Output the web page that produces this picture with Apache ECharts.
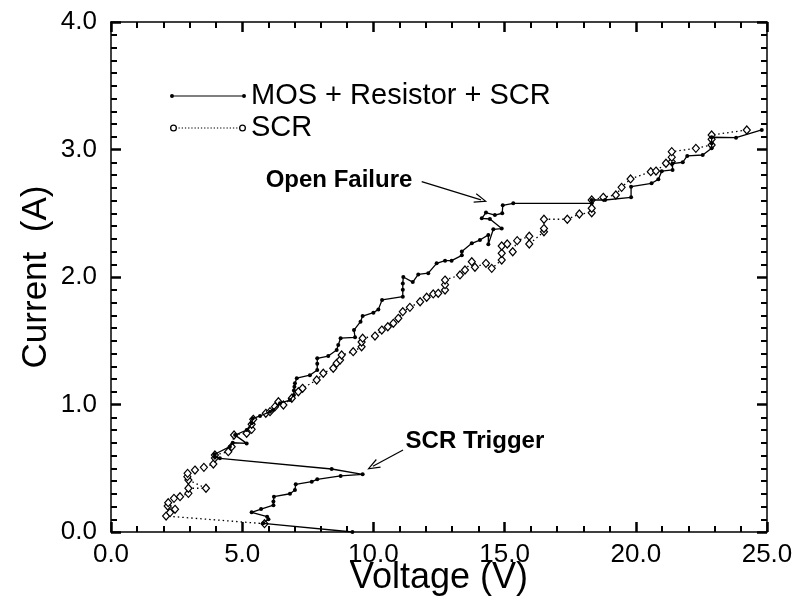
<!DOCTYPE html>
<html>
<head>
<meta charset="utf-8">
<title>TLP I-V</title>
<script src="https://cdn.jsdelivr.net/npm/echarts@6/dist/echarts.min.js"></script>
<style>
  html, body { margin: 0; padding: 0; background: #fff; }
  #chart { width: 795px; height: 604px; }
</style>
</head>
<body>
<div id="chart"></div>
<script>
// TLP sweep of the MOS + resistor + SCR clamp: [voltage (V), current (A)] in measurement order
const mosPoints = [
  [9.2, 0.0], [5.80, 0.068], [6.00, 0.10], [5.95, 0.12], [5.36, 0.154], [5.72, 0.18],
  [6.19, 0.21], [6.19, 0.24], [6.21, 0.277], [6.82, 0.30], [7.01, 0.33], [7.04, 0.374],
  [7.65, 0.395], [7.86, 0.413], [8.75, 0.44], [9.59, 0.452], [8.41, 0.494], [4.15, 0.578],
  [3.96, 0.59], [3.95, 0.61], [4.53, 0.669], [4.64, 0.70], [5.17, 0.695], [4.73, 0.76],
  [5.17, 0.80], [5.36, 0.852], [5.40, 0.89], [5.68, 0.91], [6.06, 0.944], [6.19, 0.957],
  [6.44, 1.01], [6.82, 1.035], [6.97, 1.075], [6.97, 1.11], [6.99, 1.14], [7.01, 1.166],
  [7.08, 1.206], [7.58, 1.23], [7.86, 1.27], [7.86, 1.32], [7.86, 1.362], [8.28, 1.38],
  [8.60, 1.427], [8.66, 1.467], [8.75, 1.52], [9.30, 1.527], [9.26, 1.584], [9.51, 1.65],
  [9.59, 1.694], [10.00, 1.72], [10.19, 1.746], [10.33, 1.82], [11.12, 1.846], [11.12, 1.90],
  [11.12, 1.95], [11.14, 2.00], [11.50, 1.96], [11.71, 2.02], [12.09, 2.03], [12.41, 2.107],
  [12.73, 2.128], [12.98, 2.128], [13.37, 2.17], [13.37, 2.20], [13.75, 2.264], [14.06, 2.29],
  [14.38, 2.33], [14.38, 2.256], [14.57, 2.374], [14.89, 2.38], [14.44, 2.455], [14.13, 2.46],
  [14.29, 2.505], [14.63, 2.486], [14.91, 2.50], [14.93, 2.562], [15.33, 2.578], [18.32, 2.578],
  [18.32, 2.604], [18.83, 2.604], [19.82, 2.625], [19.82, 2.708], [20.60, 2.735], [20.86, 2.766],
  [20.99, 2.83], [21.40, 2.84], [21.40, 2.89], [21.79, 2.90], [21.96, 2.95], [22.55, 2.957],
  [22.89, 3.01], [22.89, 3.05], [22.89, 3.096], [23.82, 3.093], [24.80, 3.153]
];

// TLP sweep of the bare SCR
const scrPoints = [
  [5.85, 0.065], [2.10, 0.125], [2.25, 0.152], [2.44, 0.178], [2.16, 0.204], [2.18, 0.23],
  [2.40, 0.264], [2.63, 0.277], [2.95, 0.303], [2.95, 0.343], [3.62, 0.343], [2.95, 0.408],
  [2.91, 0.434], [2.92, 0.46], [3.20, 0.486], [3.54, 0.507], [3.90, 0.533], [3.96, 0.58],
  [3.96, 0.604], [4.47, 0.63], [4.60, 0.669], [4.69, 0.761], [5.17, 0.774], [5.36, 0.805],
  [5.36, 0.845], [5.42, 0.884], [5.90, 0.931], [6.06, 0.944], [6.25, 0.983], [6.38, 1.022],
  [6.57, 0.996], [6.89, 1.049], [7.14, 1.10], [7.30, 1.127], [7.84, 1.192], [8.09, 1.245],
  [8.47, 1.284], [8.60, 1.323], [8.73, 1.349], [8.79, 1.388], [9.23, 1.414], [9.55, 1.453],
  [9.55, 1.49], [9.59, 1.52], [10.06, 1.537], [10.32, 1.584], [10.55, 1.61], [10.76, 1.637],
  [10.95, 1.676], [11.12, 1.728], [11.39, 1.762], [11.78, 1.806], [12.03, 1.841], [12.28, 1.867],
  [12.47, 1.872], [12.73, 1.898], [12.73, 1.94], [12.73, 1.976], [13.30, 2.016], [13.49, 2.055],
  [13.75, 2.12], [13.87, 2.076], [14.29, 2.107], [14.51, 2.068], [14.89, 2.133], [14.89, 2.186],
  [14.89, 2.243], [15.10, 2.259], [15.31, 2.198], [15.48, 2.285], [15.94, 2.32], [15.94, 2.259],
  [16.50, 2.355], [16.50, 2.38], [16.50, 2.453], [17.39, 2.453], [17.85, 2.494], [18.32, 2.504],
  [18.32, 2.539], [18.32, 2.604], [18.76, 2.625], [19.24, 2.643], [19.46, 2.703], [19.80, 2.769],
  [20.57, 2.826], [20.77, 2.831], [21.15, 2.892], [21.37, 2.904], [21.37, 2.94], [21.37, 2.983],
  [22.29, 3.009], [22.89, 3.035], [22.89, 3.08], [22.89, 3.114], [24.23, 3.153]
];

const seriesNames = ['MOS + Resistor + SCR', 'SCR'];

// Callout text positions and arrow ends, in data units
const calloutLabels = ['Open Failure', 'SCR Trigger'];
const calloutTextAt = [[8.69, 2.76], [13.87, 0.714]];
const calloutArrows = [
  [[11.84, 2.748], [14.10, 2.605]],
  [[11.13, 0.643], [9.98, 0.515]]
];

const FONT = '"Liberation Sans", Arial, Helvetica, sans-serif';

// Legend swatches: a line with a marker at each end
function mosSwatch() {
  return 'path://M0,2 A2,2 0 1 1 4,2 A2,2 0 1 1 0,2 Z ' +
         'M72,2 A2,2 0 1 1 76,2 A2,2 0 1 1 72,2 Z ' +
         'M2,1.4 L74,1.4 L74,2.6 L2,2.6 Z';
}
function scrSwatch() {
  let p = 'M0,3.5 A3.5,3.5 0 1 1 7,3.5 A3.5,3.5 0 1 1 0,3.5 Z ' +
          'M1.3,3.5 A2.2,2.2 0 1 0 5.7,3.5 A2.2,2.2 0 1 0 1.3,3.5 Z ' +
          'M69,3.5 A3.5,3.5 0 1 1 76,3.5 A3.5,3.5 0 1 1 69,3.5 Z ' +
          'M70.3,3.5 A2.2,2.2 0 1 0 74.7,3.5 A2.2,2.2 0 1 0 70.3,3.5 Z ';
  for (let x = 8.5; x < 68; x += 3.2) {
    p += 'M' + x + ',2.9 L' + (x + 1.3) + ',2.9 L' + (x + 1.3) + ',4.1 L' + x + ',4.1 Z ';
  }
  return 'path://' + p;
}

// Open chevron used as arrowhead
const chevron = 'path://M5,0 L10,13 L8.8,13.4 L5,3.2 L1.2,13.4 L0,13 Z';

const fmt = v => v.toFixed(1);

// Inward ticks on every side of the frame
function majorTick() {
  return { show: true, inside: true, length: 10, lineStyle: { color: '#000', width: 2.5 } };
}
function minorTick(n) {
  return { show: true, splitNumber: n, length: 6, lineStyle: { color: '#000', width: 2 } };
}

function xAxisDef(pos, labels) {
  return {
    type: 'value', position: pos, min: 0, max: 25, interval: 5,
    axisLine: { show: true, onZero: false, lineStyle: { color: '#000', width: 1.5 } },
    axisTick: majorTick(),
    minorTick: minorTick(5),
    splitLine: { show: false },
    axisLabel: { show: labels, formatter: fmt, fontSize: 26, color: '#000', margin: 10, fontFamily: FONT },
    name: labels ? 'Voltage (V)' : '',
    nameLocation: 'middle', nameGap: 28, nameMoveOverlap: false,
    nameTextStyle: { fontSize: 36, color: '#000', fontFamily: FONT }
  };
}
function yAxisDef(pos, labels) {
  return {
    type: 'value', position: pos, min: 0, max: 4, interval: 1,
    axisLine: { show: true, onZero: false, lineStyle: { color: '#000', width: 1.5 } },
    axisTick: majorTick(),
    minorTick: minorTick(10),
    splitLine: { show: false },
    axisLabel: { show: labels, formatter: fmt, fontSize: 26, color: '#000', margin: 14, fontFamily: FONT },
    name: labels ? 'Current  (A)' : '',
    nameLocation: 'middle', nameGap: 57, nameMoveOverlap: false,
    nameTextStyle: { fontSize: 35, color: '#000', fontFamily: FONT }
  };
}

const chart = echarts.init(document.getElementById('chart'), null, { renderer: 'canvas' });
chart.setOption({
  animation: false,
  backgroundColor: '#fff',
  grid: { left: 111, right: 28, top: 22, bottom: 72, outerBoundsMode: 'none' },
  legend: {
    orient: 'vertical', left: 165, top: 76, itemWidth: 76, itemGap: 2,
    textStyle: { fontSize: 29, color: '#000', fontFamily: FONT, lineHeight: 30 },
    data: [
      { name: seriesNames[0], icon: mosSwatch(), itemHeight: 4,
        itemStyle: { color: '#000', borderWidth: 0 } },
      { name: seriesNames[1], icon: scrSwatch(), itemHeight: 7,
        itemStyle: { color: '#000', borderWidth: 0 } }
    ]
  },
  xAxis: [xAxisDef('bottom', true), xAxisDef('top', false)],
  yAxis: [yAxisDef('left', true), yAxisDef('right', false)],
  series: [
    {
      name: seriesNames[1], type: 'line', data: scrPoints,
      symbol: 'diamond', symbolSize: [7, 8],
      itemStyle: { color: '#fff', borderColor: '#000', borderWidth: 1.2 },
      lineStyle: { color: '#000', width: 1.3, type: [1.5, 3] },
      z: 2
    },
    {
      name: seriesNames[0], type: 'line', data: mosPoints,
      symbol: 'circle', symbolSize: 4,
      itemStyle: { color: '#000' },
      lineStyle: { color: '#000', width: 1.3 },
      z: 3,
      markLine: {
        silent: true, animation: false,
        symbol: ['none', chevron], symbolSize: [10, 13],
        lineStyle: { color: '#000', width: 1.2, type: 'solid' },
        label: { show: false },
        data: calloutArrows.map(a => [{ coord: a[0] }, { coord: a[1] }])
      },
      markPoint: {
        silent: true, animation: false,
        symbol: 'circle', symbolSize: 0,
        label: {
          show: true, position: 'inside', formatter: '{b}',
          fontSize: 24, fontWeight: 'bold', color: '#000', fontFamily: FONT
        },
        data: calloutLabels.map((t, i) => ({ name: t, coord: calloutTextAt[i] }))
      }
    }
  ]
});
</script>
</body>
</html>
